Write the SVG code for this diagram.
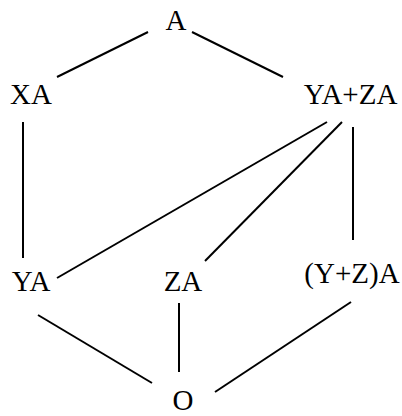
<svg xmlns="http://www.w3.org/2000/svg" width="402" height="416" viewBox="0 0 402 416">
<style>
text{font-family:"Liberation Serif","Times New Roman",serif;font-size:29px;fill:#000;text-anchor:middle}
.e line{stroke:#000;stroke-width:2;stroke-linecap:butt}
</style>
<rect width="402" height="416" fill="#fff"/>
<g id="connectors" class="e">
<line x1="148" y1="32" x2="57" y2="77"/>
<line x1="192" y1="32" x2="283" y2="77"/>
<line x1="23" y1="122" x2="23" y2="258"/>
<line x1="327" y1="122" x2="57" y2="278"/>
<line x1="342" y1="122" x2="205" y2="261"/>
<line x1="353" y1="127" x2="353" y2="240"/>
<line x1="38" y1="315" x2="152" y2="383"/>
<line x1="179" y1="303" x2="179" y2="372"/>
<line x1="351" y1="302" x2="215" y2="392"/>
</g>
<g id="n-A"><text x="176" y="30">A</text></g>
<g id="n-XA"><text x="31" y="104">XA</text></g>
<g id="n-YAZA"><text x="350.5" y="104">YA+ZA</text></g>
<g id="n-YA"><text x="31" y="291">YA</text></g>
<g id="n-ZA"><text x="183" y="291">ZA</text></g>
<g id="n-YZA"><text x="352" y="283">(Y+Z)A</text></g>
<g id="n-O"><text x="183" y="410">O</text></g>
</svg>
